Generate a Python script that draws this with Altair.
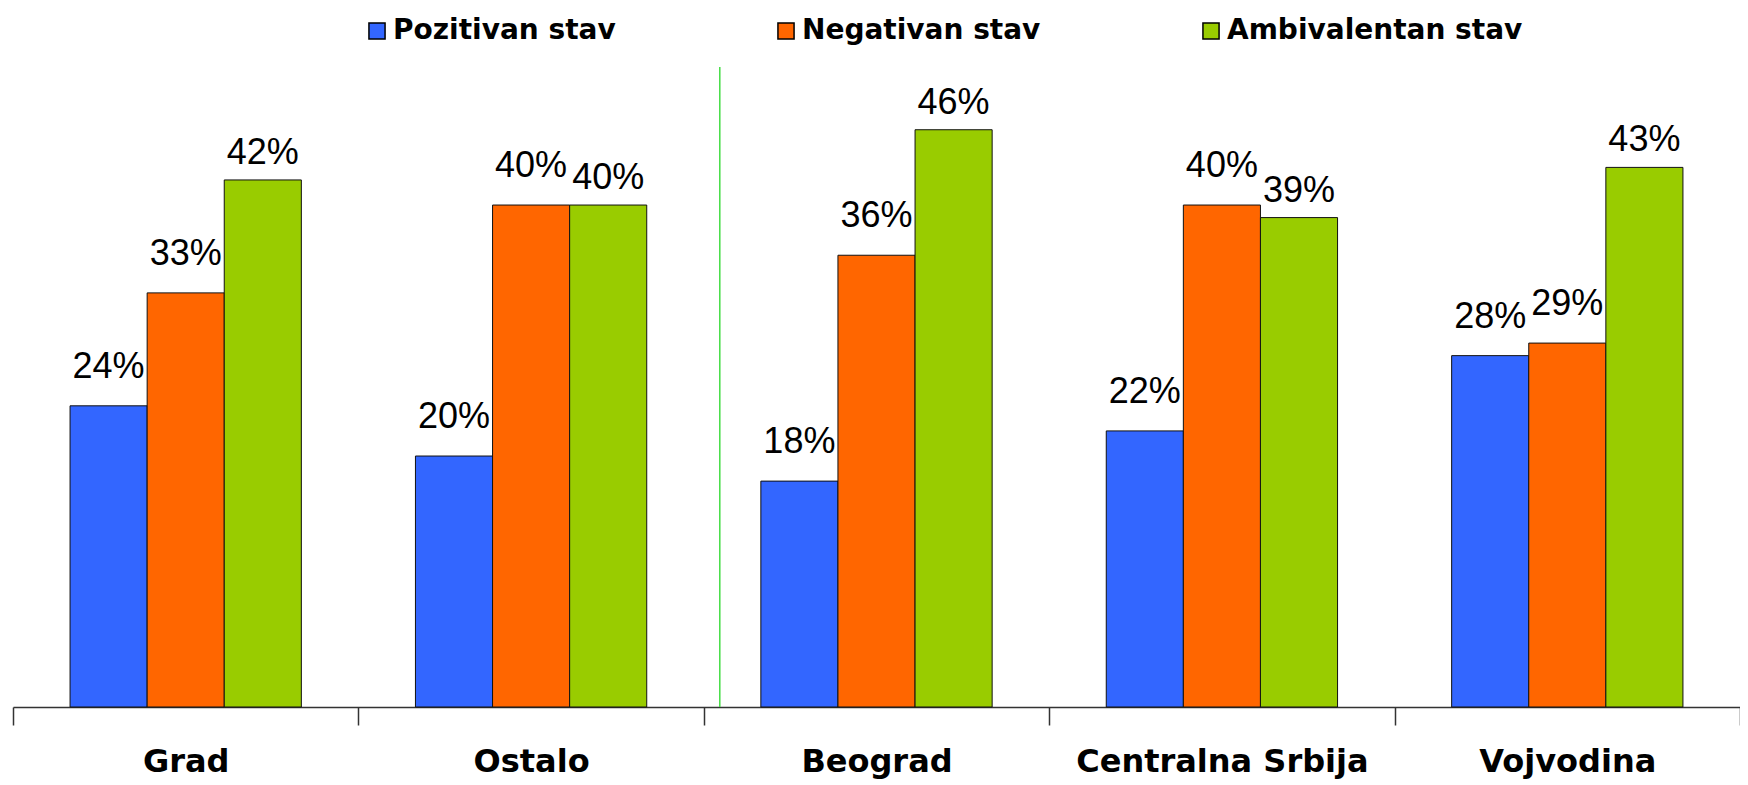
import altair as alt
import pandas as pd

categories = ["Grad", "Ostalo", "Beograd", "Centralna Srbija", "Vojvodina"]
series = ["Pozitivan stav", "Negativan stav", "Ambivalentan stav"]
pozitivan = [24, 20, 18, 22, 28]
negativan = [33, 40, 36, 40, 29]
ambivalentan = [42, 40, 46, 39, 43]
colors = ["#3366FF", "#FF6600", "#99CC00"]

rows = []
for name, vals in zip(series, [pozitivan, negativan, ambivalentan]):
    for c, v in zip(categories, vals):
        rows.append({"region": c, "stav": name, "value": v, "label": f"{v}%"})
df = pd.DataFrame(rows)

xscale = alt.Scale(domain=categories, paddingInner=0, paddingOuter=0)
x = alt.X(
    "region:N", title=None, scale=xscale,
    axis=alt.Axis(labelAngle=0, tickBand="extent", tickSize=18, labelPadding=21,
                  labelFont="DejaVu Sans", labelFontWeight="bold", labelFontSize=32,
                  labelColor="black", domainColor="#333333", tickColor="#333333",
                  domainWidth=1.5, tickWidth=1.5, grid=False, labelLimit=0),
)
xo = alt.XOffset("stav:N", scale=alt.Scale(domain=series, paddingOuter=0.74, paddingInner=0))
y = alt.Y("value:Q", scale=alt.Scale(domain=[0, 51], nice=False, zero=True), axis=None)
color = alt.Color(
    "stav:N",
    scale=alt.Scale(domain=series, range=colors),
    legend=alt.Legend(title=None, orient="none", legendX=350, legendY=-50,
                      direction="horizontal", columnPadding=156,
                      labelFont="DejaVu Sans", labelFontWeight="bold", labelFontSize=28,
                      labelColor="black", labelOffset=2, symbolType="square",
                      symbolSize=260, symbolStrokeColor="black", symbolStrokeWidth=1.5,
                      labelLimit=0, symbolOpacity=1),
)

bars = alt.Chart(df).mark_bar(stroke="#111111", strokeWidth=1).encode(
    x=x, xOffset=xo, y=y, color=color
)
labels_a = alt.Chart(df).transform_filter(
    alt.datum.stav != series[2]
).mark_text(
    font="Liberation Sans", fontSize=36, dy=-28, baseline="alphabetic", color="black"
).encode(x=x, xOffset=xo, y=y, text="label:N")
labels_b = alt.Chart(df).transform_filter(
    alt.datum.stav == series[2]
).mark_text(
    font="Liberation Sans", fontSize=36, dy=-16, baseline="alphabetic", color="black"
).encode(x=x, xOffset=xo, y=y, text="label:N")

rule = alt.Chart(alt.Data(values=[{"r": "Beograd"}])).mark_rule(
    color="#44DD44", strokeWidth=1.5, xOffset=16
).encode(
    x=alt.X("r:N", bandPosition=0, scale=xscale, title=None),
    y=alt.Y(datum=0),
    y2=alt.Y2(datum=51),
)

chart = alt.layer(bars, labels_a, labels_b, rule).properties(
    width=1727, height=640,
    padding={"left": 5, "top": 59, "right": 0, "bottom": 77},
    autosize="none",
).configure_view(stroke=None)

chart.save("out.html", embed_options={"renderer": "svg", "actions": False})
